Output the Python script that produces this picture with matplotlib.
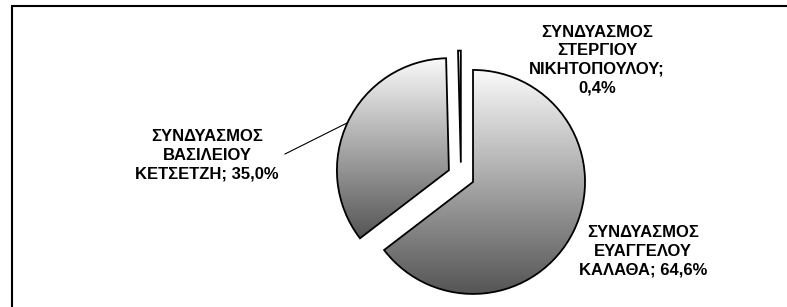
import numpy as np
import matplotlib
matplotlib.use("Agg")
import matplotlib.pyplot as plt
from matplotlib.patches import Rectangle
from matplotlib.colors import LinearSegmentedColormap
from matplotlib import font_manager

# Data
labels = ["ΣΥΝΔΥΑΣΜΟΣ\nΕΥΑΓΓΕΛΟΥ\nΚΑΛΑΘΑ", "ΣΥΝΔΥΑΣΜΟΣ\nΒΑΣΙΛΕΙΟΥ\nΚΕΤΣΕΤΖΗ", "ΣΥΝΔΥΑΣΜΟΣ\nΣΤΕΡΓΙΟΥ\nΝΙΚΗΤΟΠΟΥΛΟΥ"]
values = [64.6, 35.0, 0.4]
value_texts = ["64,6%", "35,0%", "0,4%"]

W, H = 787, 307
fig = plt.figure(figsize=(W / 100, H / 100), dpi=100)
ax = fig.add_axes([0, 0, 1, 1])

center = (461, 131)
radius = 112
off = 13.4
wedges, _ = ax.pie(values, startangle=90, counterclock=False, center=center,
                   radius=radius, explode=[off, off, off],
                   wedgeprops=dict(edgecolor="black", linewidth=1.3, facecolor="none"))

cmap = LinearSegmentedColormap.from_list("g", ["#555555", "#fafafa"])
grad = np.linspace(0, 1, 256).reshape(-1, 1)
for w in wedges:
    ext = w.get_path().get_extents()
    im = ax.imshow(grad, cmap=cmap, origin="lower", aspect="auto",
                   extent=[ext.x0, ext.x1, ext.y0, ext.y1], zorder=1)
    im.set_clip_path(w)
    w.set_zorder(2)

ax.set_xlim(0, W)
ax.set_ylim(0, H)
ax.set_aspect("equal")
ax.axis("off")

bold = font_manager.FontProperties(family="Liberation Sans", weight="bold", size=12)
fp = dict(fontproperties=bold, ha="center", va="center", multialignment="center",
          linespacing=1.3)
ax.text(643, H - 251, labels[0] + "; " + value_texts[0], **fp)
ax.text(207, H - 155, labels[1] + "; " + value_texts[1], **fp)
ax.text(597, H - 60, labels[2] + ";\n" + value_texts[2], **fp)

# leader line
ax.plot([285, 347], [H - 154, H - 123], color="black", linewidth=0.8)

# border (partially cropped)
ax.add_patch(Rectangle((12, -20), 900, H - 6 + 20, fill=False, edgecolor="black",
                       linewidth=1.5, zorder=5))

fig.savefig("out.png", dpi=100)
